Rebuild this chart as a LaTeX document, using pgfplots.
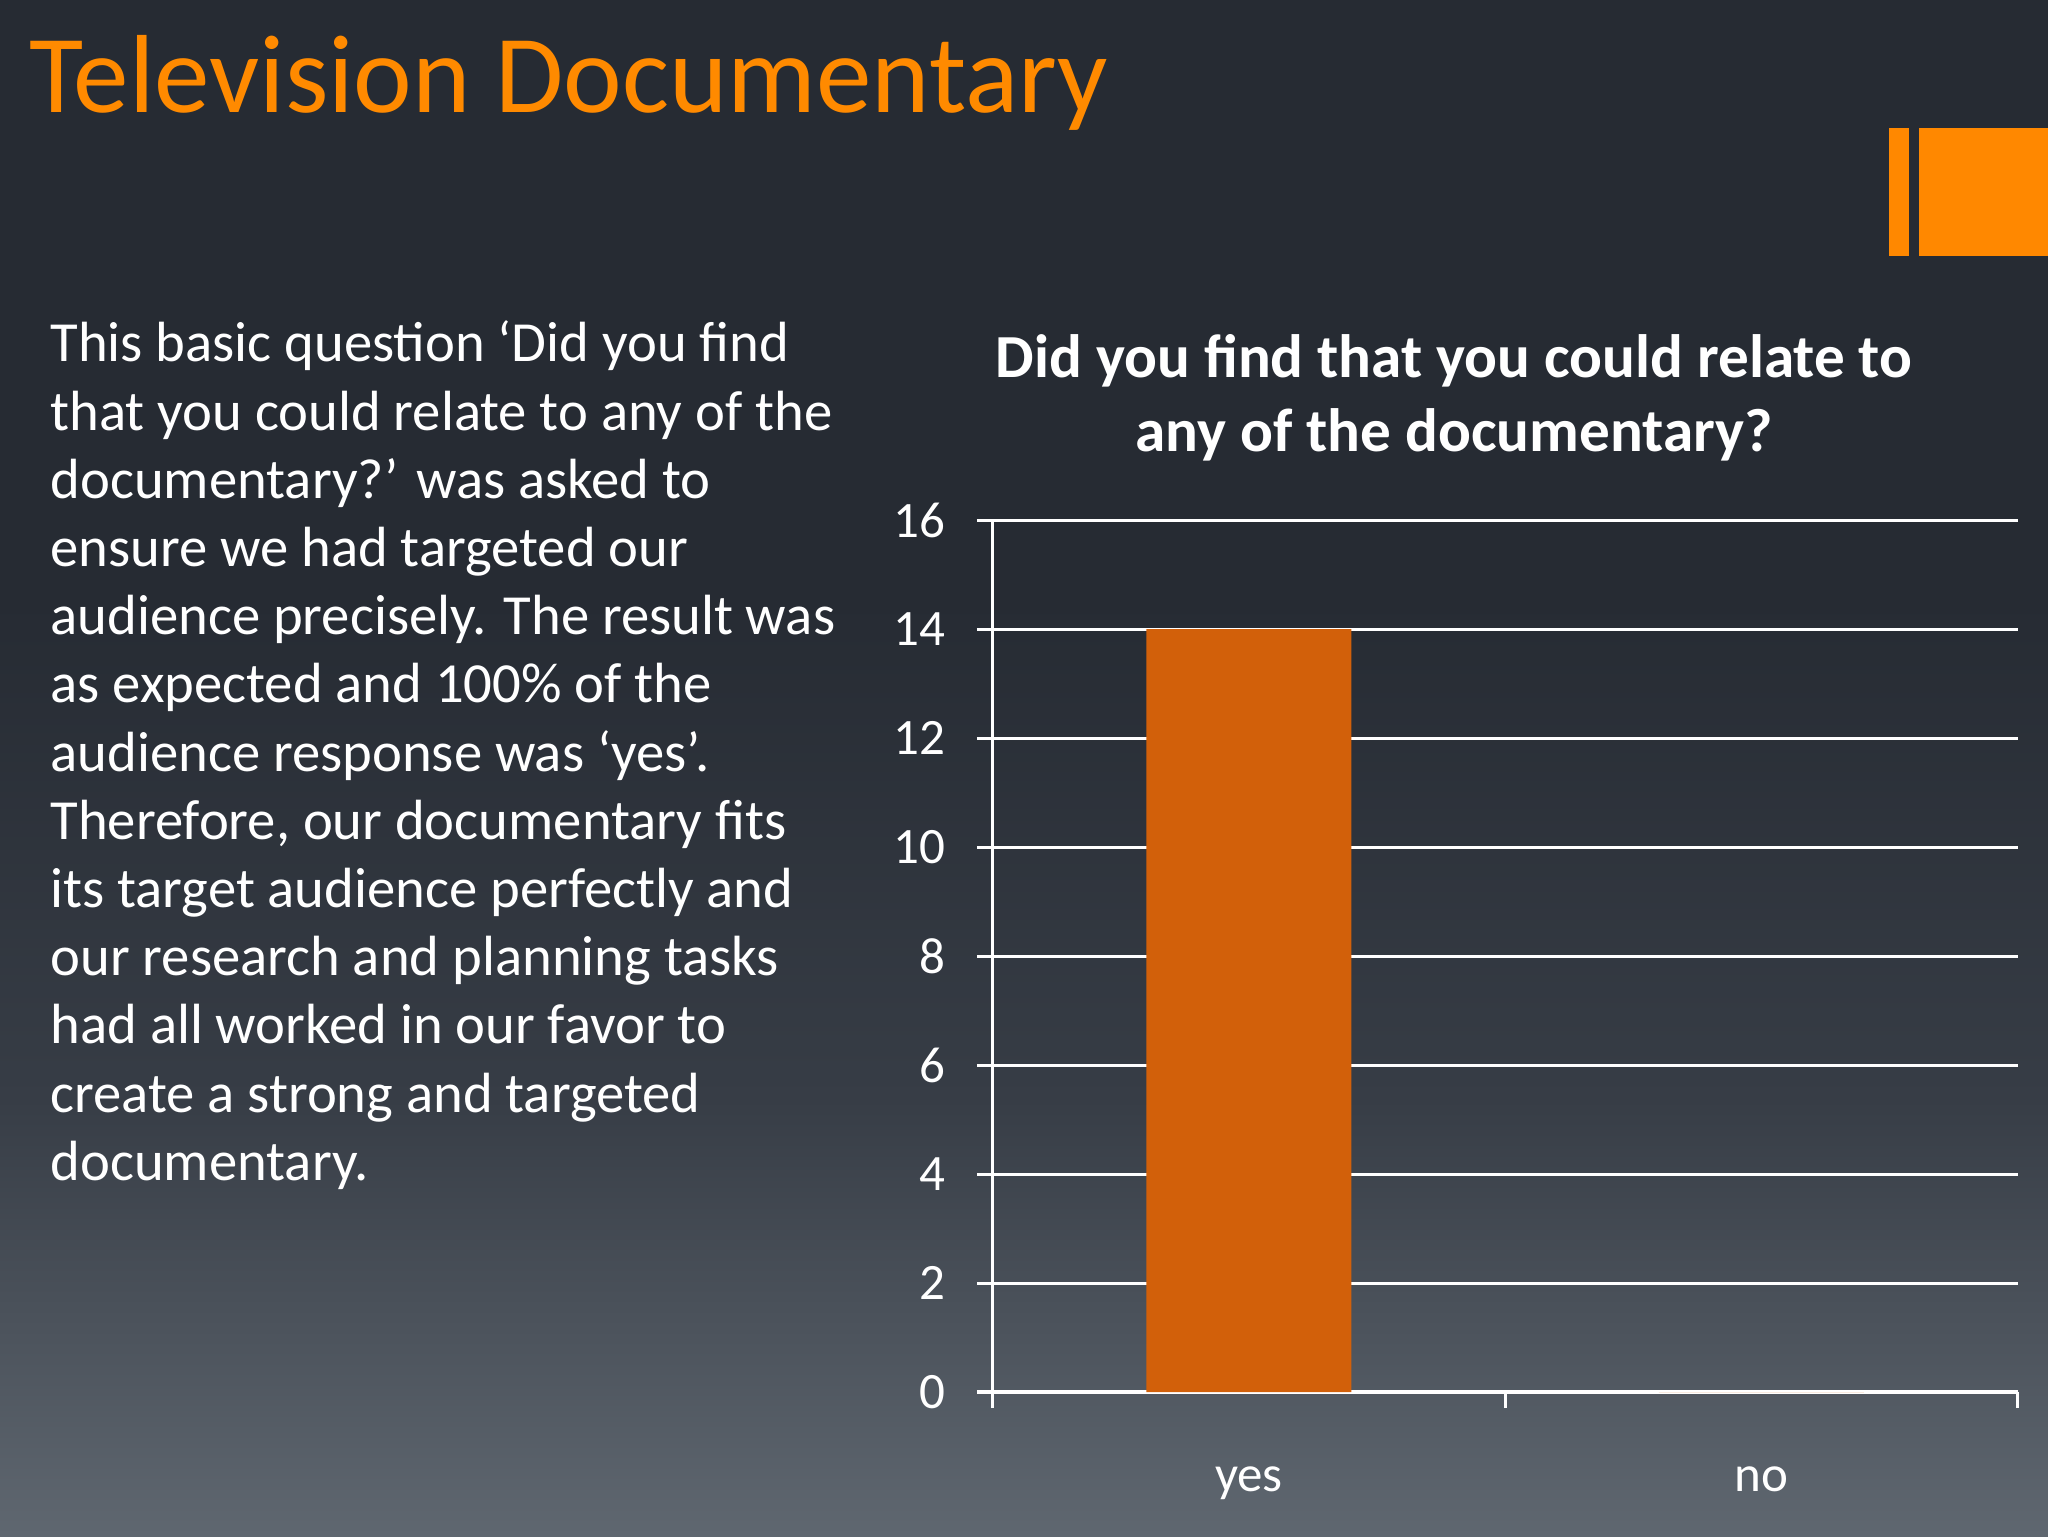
\documentclass[border=0pt]{standalone}
\usepackage{fontspec}
\setmainfont{Carlito}
\usepackage{pgfplots}
\pgfplotsset{compat=1.18}
\definecolor{bgtop}{RGB}{38,43,51}
\definecolor{bgmid}{RGB}{55,61,70}
\definecolor{bgbot}{RGB}{95,103,112}
\definecolor{titleorange}{RGB}{255,138,0}
\definecolor{blockorange}{RGB}{255,136,0}
\definecolor{barorange}{RGB}{210,96,10}
\newcommand{\body}{\fontsize{20}{24}\selectfont}
\begin{document}
\begin{tikzpicture}[x=0.0124023cm, y=0.0124023cm]
\useasboundingbox (0,0) rectangle (2048,1536);
% slide background
\fill[bgtop] (0,0) rectangle (2048,1536);
\shade[top color=bgtop, bottom color=bgmid] (0,436) rectangle (2048,936);
\shade[top color=bgmid, bottom color=bgbot] (0,0) rectangle (2048,437);
% orange decoration
\fill[blockorange] (1889,1280) rectangle (1909,1408);
\fill[blockorange] (1919,1280) rectangle (2048,1408);
% slide title
\node[anchor=base west, inner sep=0pt, text=titleorange, font=\fontsize{39.2}{47}\selectfont]
  at (29,1423) {Television Documentary};
% body text
\begin{scope}[every node/.style={anchor=base west, inner sep=0pt, text=white, font=\body}]
\node at (50,1174.0) {This basic question ‘Did you find};
\node at (50,1105.8) {that you could relate to any of the};
\node at (50,1037.6) {documentary?’ was asked to};
\node at (50,969.4) {ensure we had targeted our};
\node at (50,901.2) {audience precisely. The result was};
\node at (50,833.0) {as expected and 100\% of the};
\node at (50,764.8) {audience response was ‘yes’.};
\node at (50,696.6) {Therefore, our documentary fits};
\node at (50,628.4) {its target audience perfectly and};
\node at (50,560.2) {our research and planning tasks};
\node at (50,492.0) {had all worked in our favor to};
\node at (50,423.8) {create a strong and targeted};
\node at (50,355.6) {documentary.};
\end{scope}
% chart title
\node[anchor=base, inner sep=0pt, text=white, font=\fontsize{21.6}{26}\selectfont\bfseries]
  at (1454,1158) {Did you find that you could relate to};
\node[anchor=base, inner sep=0pt, text=white, font=\fontsize{21.6}{26}\selectfont\bfseries]
  at (1454,1084) {any of the documentary?};
\begin{axis}[
    at={(12.3155cm,1.7859cm)}, anchor=south west,
    scale only axis, width=12.712cm, height=10.815cm,
    xmin=-0.5, xmax=1.5, ymin=0, ymax=16,
    axis x line*=bottom, axis y line*=left,
    axis line style={white, line width=1.1pt},
    tick style={white, line width=1.1pt},
    tick align=outside, major tick length=0.198cm,
    ytick={0,2,...,16},
    ymajorgrids, grid style={white, line width=1.1pt},
    xtick={-0.5,0.5,1.5}, xticklabels={},
    extra x ticks={0,1}, extra x tick labels={yes,no},
    extra x tick style={major tick length=0pt, grid=none},
    xticklabel style={anchor=base, yshift=-1.24cm},
    yticklabel style={anchor=east, xshift=-0.27cm},
    ticklabel style={text=white, font=\fontsize{18}{21.6}\selectfont},
    /pgf/number format/assume math mode=true,
    clip=false,
]
\addplot[ybar, bar width=2.5425cm, fill=barorange, draw=none]
    coordinates {(0,14) (1,0)};
\end{axis}
\end{tikzpicture}
\end{document}
